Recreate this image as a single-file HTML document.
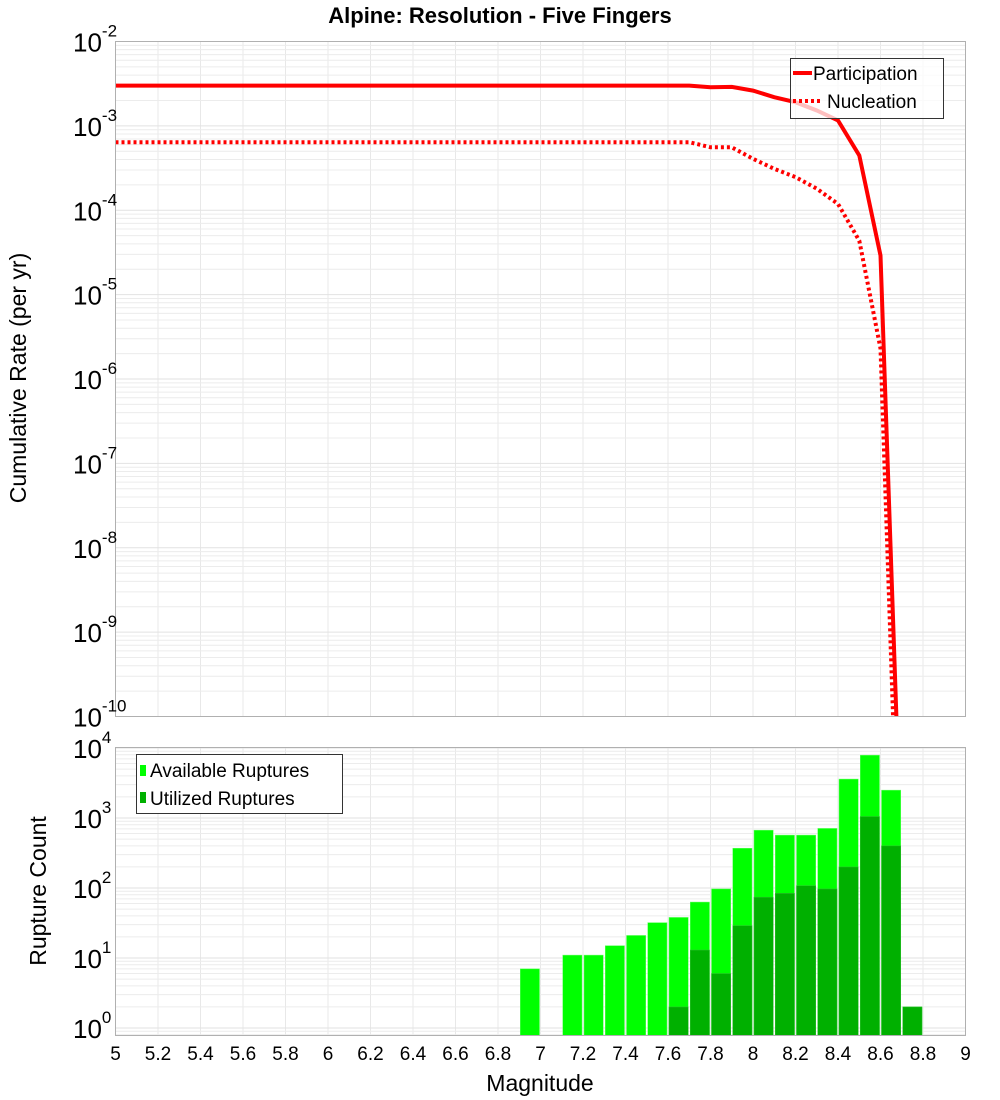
<!DOCTYPE html>
<html><head><meta charset="utf-8"><style>
body{margin:0;background:#fff;}
svg{display:block;font-family:"Liberation Sans","DejaVu Sans",sans-serif;}
</style></head><body>
<svg id="chart" width="1000" height="1100" xmlns="http://www.w3.org/2000/svg">
<text x="500" y="23" text-anchor="middle" font-size="22" font-weight="bold">Alpine: Resolution - Five Fingers</text>
<g id="topPlot"></g>
<g id="botPlot"></g>
<text transform="translate(26,378) rotate(-90)" text-anchor="middle" font-size="23">Cumulative Rate (per yr)</text>
<text transform="translate(46,891) rotate(-90)" text-anchor="middle" font-size="23">Rupture Count</text>
<text x="540" y="1091" text-anchor="middle" font-size="23">Magnitude</text>
</svg>
<script>
const mags = [5.0,5.1,5.2,5.3,5.4,5.5,5.6,5.7,5.8,5.9,6.0,6.1,6.2,6.3,6.4,6.5,6.6,6.7,6.8,6.9,7.0,7.1,7.2,7.3,7.4,7.5,7.6,7.7,7.8,7.9,8.0,8.1,8.2,8.3,8.4,8.5,8.6,8.7];
const participation = [3.0e-3,3.0e-3,3.0e-3,3.0e-3,3.0e-3,3.0e-3,3.0e-3,3.0e-3,3.0e-3,3.0e-3,3.0e-3,3.0e-3,3.0e-3,3.0e-3,3.0e-3,3.0e-3,3.0e-3,3.0e-3,3.0e-3,3.0e-3,3.0e-3,3.0e-3,3.0e-3,3.0e-3,3.0e-3,3.0e-3,3.0e-3,3.0e-3,2.87e-3,2.9e-3,2.62e-3,2.19e-3,1.91e-3,1.52e-3,1.16e-3,4.45e-4,2.91e-5,1.5e-12];
const nucleation = [6.4e-4,6.4e-4,6.4e-4,6.4e-4,6.4e-4,6.4e-4,6.4e-4,6.4e-4,6.4e-4,6.4e-4,6.4e-4,6.4e-4,6.4e-4,6.4e-4,6.4e-4,6.4e-4,6.4e-4,6.4e-4,6.4e-4,6.4e-4,6.4e-4,6.4e-4,6.4e-4,6.4e-4,6.4e-4,6.4e-4,6.4e-4,6.4e-4,5.58e-4,5.58e-4,4.07e-4,3.1e-4,2.47e-4,1.8e-4,1.19e-4,4.36e-5,2.3e-6,1e-13];
const binCenters = [6.95,7.15,7.25,7.35,7.45,7.55,7.65,7.75,7.85,7.95,8.05,8.15,8.25,8.35,8.45,8.55,8.65,8.75];
const available = [7,11,11,15,21,32,38,63,97,370,670,570,570,710,3600,7900,2500,2];
const utilized = [0,0,0,0,0,0,2,13,6,29,74,84,108,97,200,1050,400,2];
const xTicks = ["5","5.2","5.4","5.6","5.8","6","6.2","6.4","6.6","6.8","7","7.2","7.4","7.6","7.8","8","8.2","8.4","8.6","8.8","9"];
const topExps = [-2,-3,-4,-5,-6,-7,-8,-9,-10];
const botExps = [4,3,2,1,0];

const NS="http://www.w3.org/2000/svg";
const L=115.5,R=965.5;
const xs=m=>L+(m-5)*(R-L)/4;
const TT=41.5,TB=716.5;
const yTop=v=>TT+(-2-Math.log10(v))*(TB-TT)/8;
const BT=747.5,BB=1035.5;
const yBot=v=>1028-Math.log10(v)*70;
function mk(p,tag,at,txt){const e=document.createElementNS(NS,tag);for(const k in at)e.setAttribute(k,at[k]);if(txt!==undefined)e.textContent=txt;p.appendChild(e);return e;}
const topG=document.getElementById('topPlot'),botG=document.getElementById('botPlot');

const defs=mk(document.getElementById('chart'),'defs',{});
const c1=mk(defs,'clipPath',{id:'ct'});mk(c1,'rect',{x:L,y:TT,width:R-L,height:TB-TT});
const c2=mk(defs,'clipPath',{id:'cb'});mk(c2,'rect',{x:L,y:BT,width:R-L,height:BB-BT});

function grid(g,y0,y1,yfn,decLo,decHi){
  for(let i=0;i<=20;i++){const x=xs(5+i*0.2);
    const l=mk(g,'line',{x1:x,x2:x,y1:y0,y2:y1,stroke:'#e8e8e8','stroke-width':1});
    
    }
  for(let d=decLo;d<=decHi;d++){for(let k=1;k<10;k++){const y=yfn(k*Math.pow(10,d));
    if(y<y0-0.5||y>y1+0.5)continue;
    const l=mk(g,'line',{x1:L,x2:R,y1:y,y2:y,stroke:k==1?'#e2e2e2':'#ececec','stroke-width':1});
    
    }}
}
grid(topG,TT,TB,yTop,-11,-2);
grid(botG,BT,BB,yBot,-1,4);

function series(vals,dash,name){
  const pts=mags.map((m,i)=>xs(m).toFixed(1)+','+yTop(vals[i]).toFixed(1)).join(' ');
  const at={points:pts,fill:'none',stroke:'#ff0000','stroke-width':4,'clip-path':'url(#ct)'};
  if(dash)at['stroke-dasharray']='3,3';
  const p=mk(topG,'polyline',at);
  
  
}
series(nucleation,true,'nucleation-line');
series(participation,false,'participation-line');

const bw=(R-L)/40;
binCenters.forEach((m,i)=>{
  const x=xs(m)-bw/2+1;
  const r=mk(botG,'rect',{x:x,y:yBot(available[i]),width:bw-2,height:BB-yBot(available[i]),fill:'#00ff00',stroke:'#66ff66','stroke-width':0.5,'clip-path':'url(#cb)'});
  
  
  if(utilized[i]>0){
    const u=mk(botG,'rect',{x:x,y:yBot(utilized[i]),width:bw-2,height:BB-yBot(utilized[i]),fill:'#00b000',stroke:'#33c033','stroke-width':0.5,'clip-path':'url(#cb)'});
    
    
  }
});

const f1=mk(topG,'rect',{x:L,y:TT,width:R-L,height:TB-TT,fill:'none',stroke:'#b0b0b0','stroke-width':1});


const f2=mk(botG,'rect',{x:L,y:BT,width:R-L,height:BB-BT,fill:'none',stroke:'#b0b0b0','stroke-width':1});



topExps.forEach(e=>{const y=yTop(Math.pow(10,e));
  const t=mk(topG,'text',{x:73,y:y+10,'font-size':26});
  
  
  mk(t,'tspan',{},'10');mk(t,'tspan',{dy:-15,'font-size':17},String(e));});
botExps.forEach(e=>{const y=yBot(Math.pow(10,e));
  const t=mk(botG,'text',{x:73,y:y+10,'font-size':26});
  
  
  mk(t,'tspan',{},'10');mk(t,'tspan',{dy:-15,'font-size':17},String(e));});

xTicks.forEach((s,i)=>{const t=mk(botG,'text',{x:xs(5+i*0.2),y:1060,'text-anchor':'middle','font-size':19},s);
  
  });

const lg=mk(topG,'g',{});


mk(lg,'rect',{x:790.5,y:58.5,width:153,height:60,fill:'#fff','fill-opacity':0.75,stroke:'#333','stroke-width':1});
mk(lg,'line',{x1:793,x2:812,y1:73,y2:73,stroke:'#ff0000','stroke-width':4});
mk(lg,'line',{x1:793,x2:822,y1:101,y2:101,stroke:'#ff0000','stroke-width':4,'stroke-dasharray':'3,3'});
const lt1=mk(lg,'text',{x:813,y:80,'font-size':19},'Participation');


const lt2=mk(lg,'text',{x:827,y:108,'font-size':19},'Nucleation');



const bl=mk(botG,'g',{});


mk(bl,'rect',{x:136.5,y:754.5,width:206,height:59,fill:'#fff',stroke:'#333','stroke-width':1});
mk(bl,'rect',{x:140,y:765,width:6,height:11,fill:'#00ff00'});
mk(bl,'rect',{x:140,y:792,width:6,height:11,fill:'#00b000'});
const b1=mk(bl,'text',{x:150,y:777,'font-size':19},'Available Ruptures');


const b2=mk(bl,'text',{x:150,y:805,'font-size':19},'Utilized Ruptures');


</script>
</body></html>
